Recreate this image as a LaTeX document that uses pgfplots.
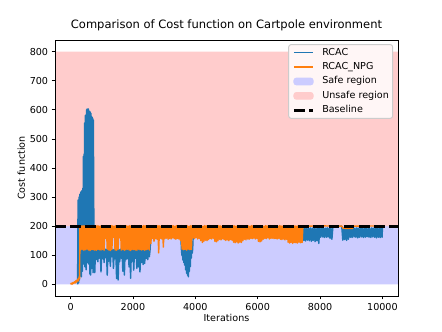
\documentclass[border=0pt]{standalone}
\usepackage{fontspec}
\setmainfont{DejaVu Sans}
\usepackage{pgfplots}
\pgfplotsset{compat=1.18}
\definecolor{tabblue}{HTML}{1F77B4}
\definecolor{taborange}{HTML}{FF7F0E}
\definecolor{safe}{rgb}{0.8,0.8,1}
\definecolor{unsafe}{rgb}{1,0.8,0.8}
\definecolor{legbg}{rgb}{1,0.965,0.965}
\definecolor{legedge}{rgb}{0.8,0.8,0.8}
\begin{document}
\begin{tikzpicture}
\path[use as bounding box] (-55bp,-36bp) rectangle (387bp,296bp);
\begin{axis}[
  at={(0,0)}, anchor=south west,
  scale only axis, width=343bp, height=256bp,
  xmin=-500, xmax=10500, ymin=-40, ymax=840,
  xtick={0,2000,4000,6000,8000,10000},
  ytick={0,100,200,300,400,500,600,700,800},
  scaled x ticks=false, scaled y ticks=false,
  /pgf/number format/assume math mode=true,
  /pgf/number format/1000 sep={},
  tick align=outside, tick pos=left,
  major tick length=3.35bp,
  every tick/.style={black, line width=0.77bp},
  axis line style={black, line width=0.77bp},
  axis on top,
  tick label style={font=\fontsize{9.63}{11}\selectfont},
  xticklabel style={inner sep=0pt, anchor=north, yshift=-3.35bp},
  yticklabel style={inner sep=0pt, anchor=east, xshift=-3.35bp},
  xlabel={Iterations}, ylabel={Cost function},
  label style={font=\fontsize{9.63}{11}\selectfont},
  xlabel style={at={(0.5,-0.0985)}, anchor=base, inner sep=0pt},
  ylabel style={at={(-0.0875,0.5)}, anchor=base, inner sep=0pt},
  title={Comparison of Cost function on Cartpole environment},
  title style={font=\fontsize{11.55}{13}\selectfont, at={(0.5,1.0234)}, anchor=base, inner sep=0pt},
  legend image code/.code={\draw[#1] (0bp,0bp) -- (19.2bp,0bp);},
  legend cell align=left,
  legend style={at={(0.986,0.984)}, anchor=north east,
    font=\fontsize{9.63}{11}\selectfont,
    draw=legedge, line width=0.96bp, fill=legbg, rounded corners=2.5bp,
    inner xsep=3.8bp, inner ysep=3.3bp, row sep=4.8bp,
    nodes={inner sep=0pt, text height=7.2bp, text depth=2.4bp},
    /tikz/every odd column/.append style={column sep=7.7bp}},
]
% regions
\addplot[draw=none, fill=safe, forget plot] coordinates {(-500,0) (10500,0) (10500,200) (-500,200) (-500,0)};
\addplot[draw=none, fill=unsafe, forget plot] coordinates {(-500,200) (10500,200) (10500,800) (-500,800) (-500,200)};
% RCAC
\addplot[tabblue, line width=1.44bp, line join=round, forget plot] coordinates {
(225,0) (240,290) (255,5) (270,300) (285,15) (300,310) (315,30) (330,318) (345,26) (360,322) (375,45) (390,330) (400,80) (410,440) (420,70) (430,448) (440,89) (450,555) (460,60) (470,580) (480,85) (490,582) (500,50) (510,600) (520,88) (530,603) (540,75) (550,598) (560,90) (570,603) (580,70) (590,582) (600,88) (610,595) (620,35) (630,592) (640,32) (650,588) (660,80) (670,578) (680,55) (690,575) (700,85) (710,571) (720,40) (730,565) (750,120)
(775,40) (800,121) (825,85) (850,119) (875,78) (900,122) (925,90) (950,120) (975,43) (1000,121) (1025,88) (1050,119) (1075,75) (1100,122) (1125,92) (1150,120) (1175,32) (1200,121) (1225,80) (1250,119) (1275,62) (1300,122) (1325,95) (1350,120) (1375,55) (1400,121) (1425,88) (1450,119) (1475,20) (1500,122) (1525,15) (1550,120) (1575,78) (1600,121) (1625,90) (1650,119) (1675,45) (1700,122) (1725,32) (1750,120) (1775,85) (1800,121) (1825,88) (1850,119) (1875,60) (1900,122) (1925,21) (1950,120) (1975,80) (2000,121) (2025,49) (2050,119) (2075,90) (2100,122) (2125,55) (2150,120) (2175,60) (2200,121) (2225,43) (2250,119) (2275,75) (2300,122) (2325,68) (2350,120) (2375,72) (2400,121) (2425,89) (2450,119) (2475,85) (2500,122) (2525,95) (2550,120)
(2575,175) (3000,182) (3530,178)
(3555,120) (3570,100) (3585,121) (3600,84) (3615,120) (3630,75) (3645,119) (3660,66) (3675,121) (3690,50) (3705,120) (3720,38) (3735,121) (3750,32) (3765,120) (3780,26) (3795,121) (3810,45) (3825,120) (3840,61) (3855,121) (3870,90) (3885,120) (3900,107) (3915,121)
(3935,178) (4500,182) (5500,179) (6500,183) (7430,180)
(7450,194) (7480,151) (7510,193) (7540,149) (7570,194) (7600,152) (7630,193) (7660,150) (7690,194) (7720,148) (7750,193) (7780,151) (7810,194) (7840,147) (7870,193) (7900,150) (7930,195) (7960,141) (7990,194) (8020,162) (8050,193) (8080,163) (8110,194) (8140,161) (8170,193) (8200,162) (8230,194) (8260,163) (8290,193) (8320,158) (8350,194) (8380,155) (8410,196) (8430,199) (8690,200)
(8700,194) (8730,152) (8760,193) (8790,154) (8820,194) (8850,151) (8880,193) (8910,155) (8940,194) (8970,162) (9000,193) (9030,161) (9060,194) (9090,163) (9120,193) (9150,162) (9180,194) (9210,160) (9240,193) (9270,162) (9300,194) (9330,163) (9360,193) (9390,161) (9420,194) (9450,162) (9480,193) (9510,164) (9540,194) (9570,162) (9600,193) (9630,161) (9660,194) (9690,163) (9720,193) (9750,162) (9780,194) (9810,160) (9840,193) (9870,162) (9900,194) (9930,161) (9960,193) (9990,162) (10000,194)
};
% RCAC_NPG
\addplot[taborange, line width=1.44bp, line join=round, forget plot] coordinates {
(0,0) (25,4) (50,1) (75,6) (100,3) (125,9) (150,5) (175,13) (200,8) (225,18) (250,12) (275,26) (290,20)
(300,201) (325,118) (350,200) (375,120) (400,202) (425,117) (450,201) (475,119) (500,200) (525,121) (550,202) (575,118) (600,201) (625,116) (650,200) (675,120) (700,202) (725,119) (750,201) (775,118) (800,200) (825,117) (850,202) (875,121) (900,201) (925,119) (950,200) (975,118) (1000,202) (1025,120) (1050,201) (1075,117) (1100,200) (1125,158) (1150,202) (1175,121) (1200,201) (1225,118) (1250,200) (1275,116) (1300,202) (1325,120) (1350,201) (1375,162) (1400,200) (1425,118) (1450,202) (1475,117) (1500,201) (1525,121) (1550,200) (1575,160) (1600,202) (1625,118) (1650,201) (1675,120) (1700,200) (1725,117) (1750,202) (1775,119) (1800,201) (1825,121) (1850,200) (1875,118) (1900,202) (1925,116) (1950,201) (1975,120) (2000,200) (2025,119) (2050,202) (2075,118) (2100,201) (2125,117) (2150,200) (2175,121) (2200,202) (2225,119) (2250,201) (2275,118) (2300,200) (2325,120) (2350,202) (2375,117) (2400,201) (2425,119) (2450,200) (2475,121) (2500,202) (2525,118) (2550,201)
(2575,140) (2600,200) (2625,158) (2650,202) (2675,148) (2700,201) (2725,157) (2750,200) (2775,155) (2800,202) (2825,108) (2850,201) (2875,158) (2900,200) (2925,156) (2950,202) (2975,128) (3000,201) (3025,157) (3050,200) (3075,159) (3100,202) (3125,155) (3150,201) (3175,158) (3200,200) (3225,156) (3250,202) (3275,160) (3300,201) (3325,157) (3350,200) (3375,155) (3400,202) (3425,158) (3450,201) (3475,156) (3500,200) (3525,150) (3550,202)
(3575,121) (3600,201) (3625,119) (3650,200) (3675,120) (3700,202) (3725,118) (3750,201) (3775,121) (3800,200) (3825,119) (3850,202) (3875,120) (3900,201)
(3925,160) (3950,200) (3975,157) (4000,202) (4025,161) (4050,201) (4075,156) (4100,200) (4125,158) (4150,202) (4175,150) (4200,201) (4225,144) (4250,200) (4275,148) (4300,202) (4325,152) (4350,201) (4375,150) (4400,200) (4425,154) (4450,202) (4475,158) (4500,201) (4525,156) (4550,200) (4575,159) (4600,202) (4625,148) (4650,201) (4675,146) (4700,200) (4725,150) (4750,202) (4775,155) (4800,201) (4825,153) (4850,200) (4875,157) (4900,202) (4925,154) (4950,201) (4975,151) (5000,200) (5025,153) (5050,202) (5075,150) (5100,201) (5125,154) (5150,200) (5175,152) (5200,202) (5225,145) (5250,201) (5275,143) (5300,200) (5325,146) (5350,202) (5375,142) (5400,201) (5425,145) (5450,200) (5475,144) (5500,202) (5525,150) (5550,201) (5575,155) (5600,200) (5625,153) (5650,202) (5675,156) (5700,201) (5725,155) (5750,200) (5775,158) (5800,202) (5825,157) (5850,201) (5875,159) (5900,200) (5925,156) (5950,202) (5975,158) (6000,201) (6025,148) (6050,200) (6075,146) (6100,202) (6125,149) (6150,201) (6175,155) (6200,200) (6225,158) (6250,202) (6275,157) (6300,201) (6325,160) (6350,200) (6375,156) (6400,202) (6425,158) (6450,201) (6475,159) (6500,200) (6525,157) (6550,202) (6575,158) (6600,201) (6625,156) (6650,200) (6675,158) (6700,202) (6725,155) (6750,201) (6775,154) (6800,200) (6825,156) (6850,202) (6875,153) (6900,201) (6925,155) (6950,200) (6975,145) (7000,202) (7025,142) (7050,201) (7075,144) (7100,200) (7125,141) (7150,202) (7175,144) (7200,201) (7225,143) (7250,200) (7275,142) (7300,202) (7325,145) (7350,201) (7375,143) (7400,200) (7425,144) (7450,201)
(7480,200) (8000,201) (8700,200) (8740,193) (9040,192) (9070,200) (10000,201)
};
% baseline
\addplot[black, line width=2.9bp, dash pattern=on 10.6bp off 4.6bp, forget plot] coordinates {(-500,200) (10500,200)};
% legend
\addlegendimage{tabblue, line width=1.44bp}
\addlegendentry{RCAC}
\addlegendimage{taborange, line width=1.44bp}
\addlegendentry{RCAC\_NPG}
\addlegendimage{legend image code/.code={\fill[safe] (0bp,-3.35bp) rectangle (19.2bp,3.35bp);}}
\addlegendentry{Safe region}
\addlegendimage{legend image code/.code={\fill[unsafe] (0bp,-3.35bp) rectangle (19.2bp,3.35bp);}}
\addlegendentry{Unsafe region}
\addlegendimage{black, line width=2.9bp, dash pattern=on 10.6bp off 4.6bp}
\addlegendentry{Baseline}
\end{axis}
\end{tikzpicture}
\end{document}
